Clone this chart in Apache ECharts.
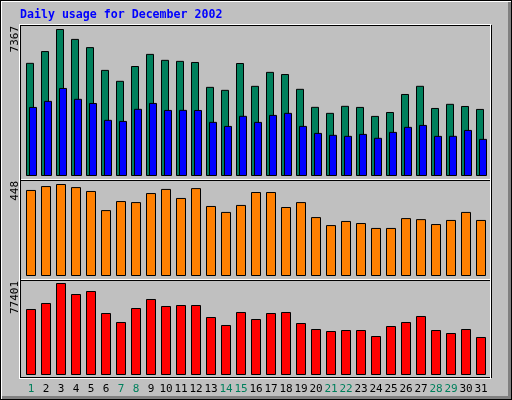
<!DOCTYPE html>
<html>
<head>
<meta charset="utf-8">
<script src="https://cdn.jsdelivr.net/npm/echarts@6/dist/echarts.min.js"></script>
<style>
  body { margin: 0; background: #c0c0c0; }
  #chart { width: 512px; height: 400px; }
</style>
</head>
<body>
<div id="chart"></div>
<script>
// 日期 1..31 (2002年12月)
const days = Array.from({ length: 31 }, (_, i) => String(i + 1))
// hits / files / sites / kbytes 每日数据
const hits = [5671, 6262, 7367, 6871, 6459, 5318, 4770, 5512, 6120, 5822, 5770, 5714, 4468, 4318, 5663, 4519,
  5219, 5110, 4369, 3466, 3165, 3517, 3462, 3012, 3208, 4111, 4520, 3410, 3617, 3509, 3361]
const files = [3461, 3766, 4412, 3868, 3660, 2815, 2761, 3367, 3662, 3311, 3315, 3309, 2714, 2510, 3016, 2712,
  3062, 3165, 2511, 2160, 2064, 2013, 2110, 1914, 2211, 2463, 2560, 2011, 2014, 2309, 1860]
const sites = [419, 438, 448, 433, 414, 321, 365, 360, 404, 424, 380, 428, 341, 312, 346, 409,
  409, 336, 360, 287, 248, 268, 258, 234, 234, 282, 277, 253, 273, 312, 273]
const kbytes = [55527, 60575, 77401, 68146, 70670, 52161, 44590, 56368, 63940, 58051, 58892, 58892, 48796, 42066,
  53003, 47113, 52161, 53003, 43748, 38700, 37017, 37859, 37859, 32811, 41224, 44590, 49638, 37859, 35335, 38700, 31970]

const maxHits = Math.max(...hits)
const maxSites = Math.max(...sites)
const maxKbytes = Math.max(...kbytes)

const monoFont = '"DejaVu Sans Mono", monospace'
const green = '#00805c'

// 周末 (周六/周日) 用绿色
function isWeekend(d) {
  const dow = new Date(2002, 11, Number(d)).getDay()
  return dow === 0 || dow === 6
}

// 1px 填充矩形，用于框线
function px(x, y, w, h, color) {
  return { type: 'rect', shape: { x: x, y: y, width: w, height: h }, style: { fill: color }, silent: true, z: 100 }
}

// 竖排数值标签
function upLabel(text, top) {
  return {
    type: 'text',
    x: 15,
    y: top,
    rotation: Math.PI / 2,
    silent: true,
    z: 100,
    style: { text: text, fill: '#000', font: '11px ' + monoFont, align: 'right', verticalAlign: 'middle' }
  }
}

const graphic = [
  // 外框
  px(0, 0, 512, 1, '#000'), px(0, 399, 512, 1, '#000'),
  px(0, 0, 1, 400, '#000'), px(511, 0, 1, 400, '#000'),
  px(1, 1, 510, 1, '#fff'), px(1, 1, 1, 398, '#fff'),
  px(508, 2, 3, 397, '#808080'), px(2, 396, 509, 3, '#808080'),
  // 图表区框线
  px(19, 24, 472, 1, '#fff'), px(20, 25, 471, 1, '#000'),
  px(19, 179, 472, 1, '#fff'), px(20, 180, 471, 1, '#000'),
  px(19, 279, 472, 1, '#fff'), px(20, 280, 471, 1, '#000'),
  px(20, 377, 471, 1, '#000'), px(19, 378, 472, 1, '#fff'),
  px(19, 24, 1, 355, '#fff'), px(20, 25, 1, 353, '#000'),
  px(490, 25, 1, 353, '#fff'), px(491, 25, 1, 353, '#000'),
  // 标题
  {
    type: 'text', x: 20, y: 15, silent: true, z: 100,
    style: { text: 'Daily usage for December 2002', fill: '#0000ff', font: 'bold 11.6px ' + monoFont, verticalAlign: 'middle' }
  },
  upLabel(String(maxHits), 26),
  upLabel(String(maxSites), 181),
  upLabel(String(maxKbytes), 281)
]

function catAxis(gridIndex, showLabel) {
  return {
    type: 'category',
    gridIndex: gridIndex,
    data: days,
    axisLine: { show: false },
    axisTick: { show: false },
    axisLabel: {
      show: showLabel,
      interval: 0,
      margin: 9,
      fontFamily: monoFont,
      fontSize: 11,
      formatter: function(value) {
        return isWeekend(value) ? '{w|' + value + '}' : '{d|' + value + '}'
      },
      rich: {
        w: { color: green, fontFamily: monoFont, fontSize: 11 },
        d: { color: '#000', fontFamily: monoFont, fontSize: 11 }
      }
    }
  }
}

function valAxis(gridIndex, max) {
  return { type: 'value', gridIndex: gridIndex, min: 0, max: max, show: false, splitLine: { show: false } }
}

function barStyle(color) {
  return { color: color, borderColor: '#000', borderWidth: 1 }
}

const myChart = echarts.init(document.getElementById('chart'))
myChart.setOption({
  backgroundColor: '#c0c0c0',
  animation: false,
  graphic: graphic,
  grid: [
    { left: 24, width: 465, top: 29, height: 147 },
    { left: 23.5, width: 465, top: 184, height: 92 },
    { left: 23.5, width: 465, top: 283, height: 92 }
  ],
  xAxis: [catAxis(0, false), catAxis(1, false), catAxis(2, true)],
  yAxis: [valAxis(0, maxHits), valAxis(1, maxSites), valAxis(2, maxKbytes)],
  series: [
    {
      name: 'Hits', type: 'bar', xAxisIndex: 0, yAxisIndex: 0,
      data: hits, barWidth: 8, barGap: '-62.5%', itemStyle: barStyle(green)
    },
    {
      name: 'Files', type: 'bar', xAxisIndex: 0, yAxisIndex: 0,
      data: files, barWidth: 8, barGap: '-62.5%', itemStyle: barStyle('#0000ff')
    },
    {
      name: 'Sites', type: 'bar', xAxisIndex: 1, yAxisIndex: 1,
      data: sites, barWidth: 10, itemStyle: barStyle('#ff8000')
    },
    {
      name: 'KBytes', type: 'bar', xAxisIndex: 2, yAxisIndex: 2,
      data: kbytes, barWidth: 10, itemStyle: barStyle('#ff0000')
    }
  ]
})
</script>
</body>
</html>
